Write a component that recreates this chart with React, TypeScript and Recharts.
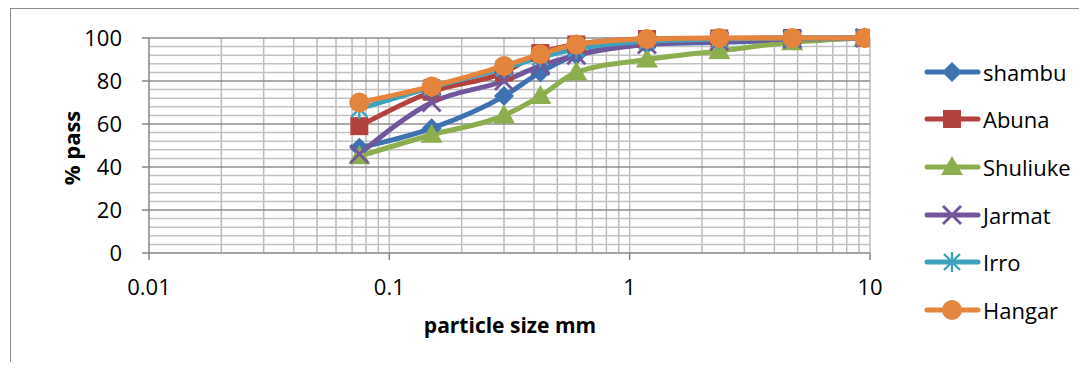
import React from 'react';
import { LineChart, Line, XAxis, YAxis, ReferenceLine, Legend } from 'recharts';

const sizes = [0.075, 0.15, 0.3, 0.425, 0.6, 1.18, 2.36, 4.75, 9.5];
const shambu = [49, 58, 73, 84, 92, 97, 98, 99, 100];
const abuna = [59, 75, 84, 93, 97, 99.5, 99.8, 100, 100];
const shuliuke = [45, 55, 64, 73, 84, 90, 94, 98, 100];
const jarmat = [46, 70, 80, 87, 92, 97, 98.5, 99.5, 100];
const irro = [67, 77, 86, 91, 95, 98.5, 99.5, 100, 100];
const hangar = [70, 77.5, 87, 92.5, 97, 99.5, 100, 100, 100];

const xTicks = [0.01, 0.1, 1, 10];
const yTicks = [0, 20, 40, 60, 80, 100];
const xMinor = [0.02, 0.03, 0.04, 0.05, 0.06, 0.07, 0.08, 0.09, 0.2, 0.3, 0.4, 0.5, 0.6, 0.7, 0.8, 0.9, 2, 3, 4, 5, 6, 7, 8, 9];
const yMinor = [4, 8, 12, 16, 24, 28, 32, 36, 44, 48, 52, 56, 64, 68, 72, 76, 84, 88, 92, 96];

const series = [
  { key: 'shambu', name: 'shambu', values: shambu, color: '#3f72b0', shape: 'diamond' },
  { key: 'abuna', name: 'Abuna', values: abuna, color: '#b3413d', shape: 'square' },
  { key: 'shuliuke', name: 'Shuliuke', values: shuliuke, color: '#8cae4e', shape: 'triangle' },
  { key: 'jarmat', name: 'Jarmat', values: jarmat, color: '#72569b', shape: 'x' },
  { key: 'irro', name: 'Irro', values: irro, color: '#3ea2bd', shape: 'star' },
  { key: 'hangar', name: 'Hangar', values: hangar, color: '#e5843c', shape: 'circle' },
];

const data = sizes.map((s, i) => {
  const row: any = { size: s };
  series.forEach((ser) => { row[ser.key] = ser.values[i]; });
  return row;
});

const FONT = "'Open Sans', 'Noto Sans', sans-serif";

function Marker({ shape, color, cx, cy }: { shape: string; color: string; cx: number; cy: number }) {
  switch (shape) {
    case 'diamond':
      return <polygon points={`${cx},${cy - 10} ${cx + 10},${cy} ${cx},${cy + 10} ${cx - 10},${cy}`} fill={color} />;
    case 'square':
      return <rect x={cx - 9} y={cy - 9} width={18} height={18} fill={color} />;
    case 'triangle':
      return <polygon points={`${cx},${cy - 11} ${cx + 11},${cy + 8} ${cx - 11},${cy + 8}`} fill={color} />;
    case 'x':
      return (
        <g stroke={color} strokeWidth={2.8}>
          <line x1={cx - 9} y1={cy - 9} x2={cx + 9} y2={cy + 9} />
          <line x1={cx - 9} y1={cy + 9} x2={cx + 9} y2={cy - 9} />
        </g>
      );
    case 'star':
      return (
        <g stroke={color} strokeWidth={2.4}>
          <line x1={cx - 8} y1={cy - 8} x2={cx + 8} y2={cy + 8} />
          <line x1={cx - 8} y1={cy + 8} x2={cx + 8} y2={cy - 8} />
          <line x1={cx} y1={cy - 10} x2={cx} y2={cy + 10} />
        </g>
      );
    default:
      return <circle cx={cx} cy={cy} r={10} fill={color} />;
  }
}

function makeDot(shape: string, color: string) {
  return (props: any) => {
    const { cx, cy, index } = props;
    if (cx == null || cy == null) return <g key={`e-${index}`} />;
    return (
      <g key={`d-${index}`}>
        <Marker shape={shape} color={color} cx={cx} cy={cy} />
      </g>
    );
  };
}

function renderLegend() {
  return (
    <div style={{ fontFamily: FONT }}>
      {series.map((s) => (
        <div key={s.key} style={{ height: 47.6, display: 'flex', alignItems: 'center' }}>
          <svg width={57} height={24} style={{ display: 'block' }}>
            <line x1={3} y1={12} x2={54} y2={12} stroke={s.color} strokeWidth={5} strokeLinecap="round" />
            <Marker shape={s.shape} color={s.color} cx={28} cy={12} />
          </svg>
          <span style={{ fontSize: 22, color: '#000', marginLeft: 2, lineHeight: 1 }}>{s.name}</span>
        </div>
      ))}
    </div>
  );
}

const YTitle = () => (
  <text
    x={63}
    y={140}
    transform="rotate(-90, 63, 140)"
    textAnchor="middle"
    dominantBaseline="central"
    fontFamily={FONT}
    fontWeight="bold"
    fontSize={22}
    fill="#000"
  >
    % pass
  </text>
);

const XTitle = () => (
  <text x={502} y={325} textAnchor="middle" fontFamily={FONT} fontWeight="bold" fontSize={21} fill="#000">
    particle size mm
  </text>
);

export default function App() {
  return (
    <div style={{ position: 'relative', width: 1071, height: 354, fontFamily: FONT, background: '#fff' }}>
      <div
        style={{
          position: 'absolute',
          left: 2,
          top: 0,
          width: 1075,
          height: 360,
          borderLeft: '1px solid #8c8c8c',
          borderTop: '1px solid #8c8c8c',
          pointerEvents: 'none',
        }}
      />
      <LineChart width={1071} height={354} data={data} margin={{ top: 30, right: 209, bottom: 0, left: 0 }}>
        {xMinor.map((v) => (
          <ReferenceLine key={`vx-${v}`} x={v} stroke="#bcbcbc" strokeWidth={1.5} />
        ))}
        {xTicks.slice(1).map((v) => (
          <ReferenceLine key={`vX-${v}`} x={v} stroke="#bcbcbc" strokeWidth={1.5} />
        ))}
        {yMinor.map((v) => (
          <ReferenceLine key={`hy-${v}`} y={v} stroke="#c2c2c2" strokeWidth={1.5} />
        ))}
        {yTicks.slice(1).map((v) => (
          <ReferenceLine key={`hY-${v}`} y={v} stroke="#8e8e8e" strokeWidth={1.5} />
        ))}
        <XAxis
          dataKey="size"
          type="number"
          scale="log"
          domain={[0.01, 10]}
          allowDataOverflow
          ticks={xTicks}
          tickFormatter={(v: number) => String(v)}
          height={109}
          tickSize={7}
          tickMargin={19}
          axisLine={{ stroke: '#868686', strokeWidth: 1.5 }}
          tickLine={{ stroke: '#868686', strokeWidth: 1.5 }}
          tick={{ fill: '#000', fontSize: 22, fontFamily: FONT }}
          label={<XTitle />}
        />
        <YAxis
          type="number"
          domain={[0, 100]}
          ticks={yTicks}
          width={141}
          tickSize={7}
          tickMargin={20}
          axisLine={{ stroke: '#868686', strokeWidth: 1.5 }}
          tickLine={{ stroke: '#868686', strokeWidth: 1.5 }}
          tick={{ fill: '#000', fontSize: 22, fontFamily: FONT }}
          label={<YTitle />}
        />
        <Legend
          layout="vertical"
          align="center"
          verticalAlign="middle"
          content={renderLegend}
          wrapperStyle={{ left: 916, top: 40, width: 155 }}
        />
        {series.map((s) => (
          <Line
            key={s.key}
            type="monotone"
            dataKey={s.key}
            name={s.name}
            stroke={s.color}
            strokeWidth={5}
            dot={makeDot(s.shape, s.color)}
            activeDot={false}
            isAnimationActive={false}
          />
        ))}
      </LineChart>
    </div>
  );
}
